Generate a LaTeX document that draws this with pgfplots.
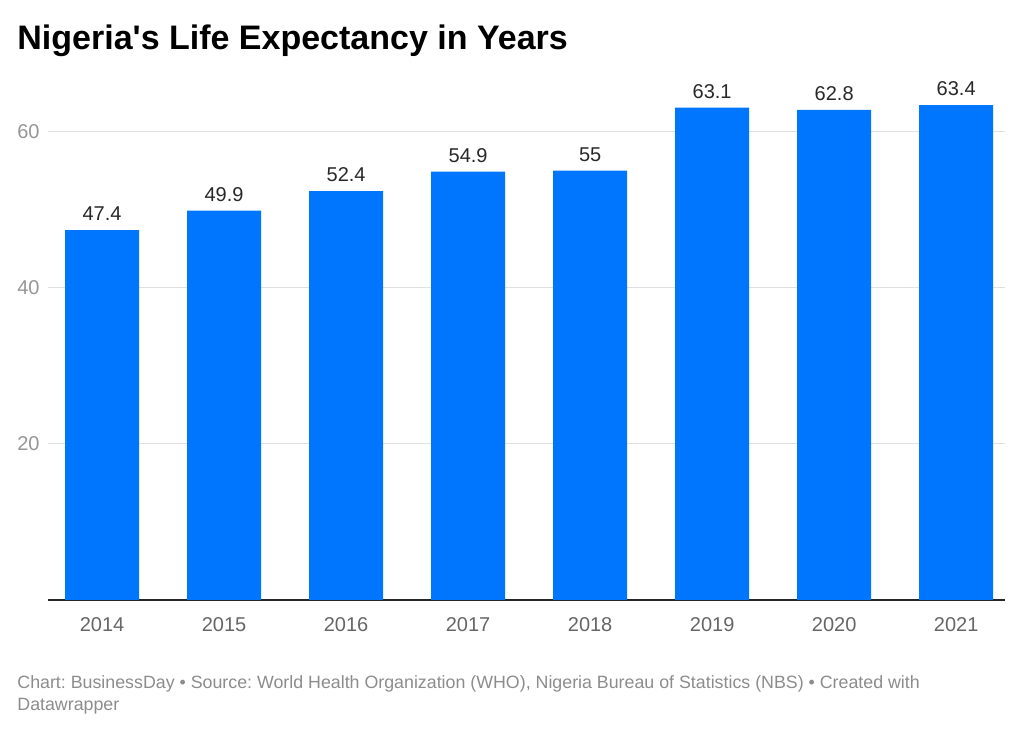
\documentclass[border=0pt]{standalone}
\usepackage{pgfplots}
\pgfplotsset{compat=1.18}
\usepackage{fontspec}
\setmainfont{Liberation Sans}
\definecolor{barblue}{RGB}{0,118,255}
\definecolor{gridgray}{RGB}{224,224,224}
\definecolor{ticklab}{RGB}{102,102,102}
\definecolor{ylab}{RGB}{150,150,150}
\definecolor{valtext}{RGB}{40,40,40}
\definecolor{foot}{RGB}{140,140,140}
\begin{document}
\frenchspacing
\begin{tikzpicture}
\useasboundingbox (0,0) rectangle (512pt,366pt);
% title and footer
\node[anchor=base west, inner sep=0pt, font=\fontsize{17pt}{20pt}\selectfont\bfseries] at (8.5pt,341pt) {Nigeria\textquotesingle s Life Expectancy in Years};
\node[anchor=base west, inner sep=0pt, align=left, text=foot, font=\fontsize{8.9pt}{11pt}\selectfont] at (8.5pt,10.5pt)
  {Chart: BusinessDay • Source: World Health Organization (WHO), Nigeria Bureau of Statistics (NBS) • Created with\\Datawrapper};
\begin{axis}[
    at={(24pt,66pt)}, anchor=south west,
    scale only axis,
    width=478.5pt, height=259.5pt,
    xmin=-0.443, xmax=7.40,
    ymin=0, ymax=66.5,
    ybar, bar width=37pt,
    axis x line*=bottom,
    axis y line=none,
    x axis line style={draw=black!85, line width=0.8pt},
    xtick=data,
    xticklabels={2014,2015,2016,2017,2018,2019,2020,2021},
    major tick length=0pt,
    xticklabel style={text=ticklab, font=\fontsize{10pt}{12pt}\selectfont, yshift=-5pt},
    /pgf/number format/assume math mode=true,
    nodes near coords,
    nodes near coords style={text=valtext, font=\fontsize{10pt}{12pt}\selectfont, yshift=1pt},
    point meta=explicit symbolic,
    clip=false,
]
% grid lines drawn as plain rules through axis coordinates
\foreach \g in {20,40,60} {
  \edef\tmp{\noexpand\draw[gridgray, line width=0.5pt] (axis cs:-0.443,\g) -- (axis cs:7.40,\g);
    \noexpand\node[anchor=east, text=ylab, font=\noexpand\fontsize{10pt}{12pt}\noexpand\selectfont, inner sep=0pt] at ([xshift=-4pt]axis cs:-0.443,\g) {\g};}
  \tmp
}
\addplot[fill=barblue, draw=none] table[meta=lab] {
x y lab
0 47.4 47.4
1 49.9 49.9
2 52.4 52.4
3 54.9 54.9
4 55.0 55
5 63.1 63.1
6 62.8 62.8
7 63.4 63.4
};
\end{axis}
\end{tikzpicture}
\end{document}
